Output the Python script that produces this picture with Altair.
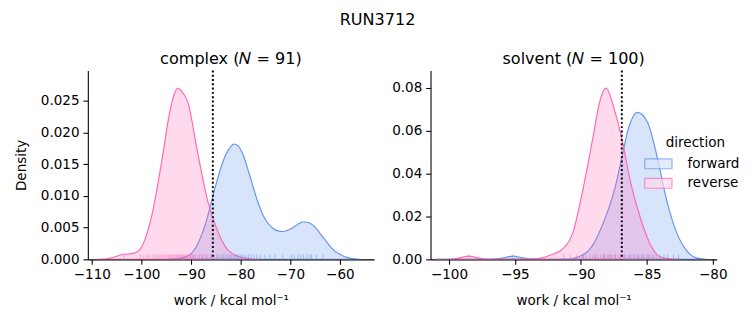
import altair as alt
import pandas as pd

# ---------------- data ----------------
directions = ["forward", "reverse"]
line_colors = ["#6495ED", "#FF69B4"]
legend_fill_colors = ["#d8e4fa", "#ffd9ec"]   # the same hues at 25 % over white

# complex leg: KDE curves
complex_fwd_x = [-95, -92, -90, -89, -88, -87, -86, -85, -84, -83, -82, -81.4, -80.5, -79.5,
                 -78.5, -77.5, -76.5, -75.5, -74.5, -73.5, -72.5, -71.5, -70.5, -69.5, -68.5,
                 -67.5, -67, -66, -65, -64, -63, -62, -61, -60, -59, -58, -57, -56]
complex_fwd_d = [0.0, 0.0002, 0.0009, 0.0019, 0.0036, 0.0058, 0.0087, 0.0117, 0.0144, 0.0165,
                 0.0178, 0.0182, 0.0179, 0.0165, 0.0141, 0.0115, 0.009, 0.007, 0.0057, 0.0049,
                 0.0045, 0.0044, 0.0046, 0.005, 0.0055, 0.0059, 0.0059, 0.0057, 0.0051, 0.0041,
                 0.0031, 0.0021, 0.0013, 0.0008, 0.0004, 0.0002, 0.0001, 0.0]
complex_rev_x = [-109, -107, -105, -103.7, -102, -100.8, -99.8, -97.8, -95.9, -94.3, -93.2,
                 -92.6, -92, -90.6, -88.7, -86.7, -84.8, -82.8, -80.2, -78, -76]
complex_rev_d = [0.0, 0.0001, 0.0005, 0.0008, 0.0009, 0.0012, 0.0022, 0.0073, 0.0155, 0.0232,
                 0.0265, 0.027, 0.0266, 0.0247, 0.017, 0.0094, 0.0048, 0.0017, 0.0004, 0.0001, 0.0]

# solvent leg: KDE curves
solvent_fwd_x = [-101, -97, -96, -95.15, -94.3, -93, -91, -90.6, -89.4, -88.4, -87.4, -86.9,
                 -86.4, -85.7, -84.95, -84.2, -83.5, -82.75, -82, -81.3, -80.5]
solvent_fwd_d = [0.0, 0.0, 0.0006, 0.0015, 0.0006, 0.0, 0.0001, 0.0004, 0.0042, 0.0156, 0.0338,
                 0.0474, 0.061, 0.0686, 0.064, 0.0474, 0.0277, 0.0126, 0.0042, 0.0008, 0.0]
solvent_rev_x = [-101, -99.8, -99.2, -98.5, -97.8, -97.2, -93.5, -92.3, -91.35, -90.6, -89.9,
                 -89.1, -88.6, -88.1, -87.4, -86.9, -86.2, -85.45, -84.7, -84, -83.2, -82.5]
solvent_rev_d = [0.0, 0.0001, 0.0007, 0.0015, 0.0007, 0.0001, 0.0002, 0.002, 0.005, 0.0126, 0.031,
                 0.0565, 0.073, 0.080, 0.0686, 0.0565, 0.035, 0.0186, 0.0065, 0.0012, 0.0002, 0.0]

# rug samples (work values)
complex_rug_fwd = [-89.5, -87.8, -86.9, -86.0, -85.4, -84.8, -84.3, -83.8, -83.4, -83.0, -82.6,
                   -82.2, -81.9, -81.5, -81.2, -80.8, -80.5, -80.1, -79.7, -79.3, -78.9, -78.4,
                   -77.9, -77.3, -76.7, -76.0, -75.1, -74.1, -73.1, -71.5, -69.8, -69.2, -68.4,
                   -67.9, -67.3, -66.6, -66.0, -65.7, -64.7, -63.4]
complex_rug_rev = [-103.5, -100.2, -99.5, -98.8, -98.3, -97.7, -97.2, -96.8, -96.4, -96.0, -95.6,
                   -95.3, -94.9, -94.6, -94.3, -94.0, -93.7, -93.4, -93.2, -92.9, -92.7, -92.4,
                   -92.2, -92.0, -91.7, -91.5, -91.2, -91.0, -90.7, -90.4, -90.1, -89.8, -89.5,
                   -89.1, -88.7, -88.3, -87.8, -87.3, -86.6, -85.9]
solvent_rug_fwd = [-95.2, -89.8, -88.9, -88.3, -87.8, -87.4, -87.0, -86.7, -86.4, -86.2, -86.0,
                   -85.8, -85.6, -85.4, -85.2, -85.0, -84.8, -84.6, -84.3, -84.0, -83.7, -83.4,
                   -83.0, -82.6]
solvent_rug_rev = [-98.5, -91.3, -90.8, -90.3, -89.9, -89.6, -89.3, -89.1, -88.9, -88.7, -88.5,
                   -88.3, -88.2, -88.0, -87.9, -87.7, -87.6, -87.4, -87.2, -87.0, -86.8, -86.6,
                   -86.3, -86.0, -85.7, -85.3, -84.9, -84.5]

# free-energy markers (dotted lines)
complex_dg = [-85.6]
solvent_dg = [-86.9]

complex_xticks = [-110, -100, -90, -80, -70, -60]
solvent_xticks = [-100, -95, -90, -85, -80]
complex_yticks = [0.0, 0.005, 0.010, 0.015, 0.020, 0.025]
solvent_yticks = [0.00, 0.02, 0.04, 0.06, 0.08]

FONT = "DejaVu Sans"
W, H = 294, 194


def curve_df(fx, fd, rx, rd):
    rows = [{"work": x, "density": d, "direction": "forward"} for x, d in zip(fx, fd)]
    rows += [{"work": x, "density": d, "direction": "reverse"} for x, d in zip(rx, rd)]
    return pd.DataFrame(rows)


def rug_df(f, r):
    rows = [{"work": x, "direction": "forward"} for x in f]
    rows += [{"work": x, "direction": "reverse"} for x in r]
    return pd.DataFrame(rows)


strong = alt.Scale(domain=directions, range=line_colors)


def panel(curves, rugs, dg, xdom, ydom, xticks, yticks, yfmt, title, ytitle, legend):
    xenc = alt.X("work:Q", scale=alt.Scale(domain=xdom, nice=False, zero=False),
                 axis=alt.Axis(values=xticks, title="work / kcal mol⁻¹", format="d"))
    yenc = alt.Y("density:Q", stack=None,
                 scale=alt.Scale(domain=ydom, nice=False, zero=True),
                 axis=alt.Axis(values=yticks, format=yfmt, title=ytitle))
    area = alt.Chart(curves).mark_area(
        interpolate="monotone", strokeWidth=1.2, fillOpacity=0.25, clip=True
    ).encode(
        x=xenc, y=yenc,
        fill=alt.Fill("direction:N", scale=strong, legend=None),
        stroke=alt.Stroke("direction:N", scale=strong, legend=None),
    )
    rug = alt.Chart(rugs).mark_rule(strokeWidth=1, opacity=0.55).encode(
        x=alt.X("work:Q"),
        y=alt.value(H - 5), y2=alt.value(H),
        stroke=alt.Stroke("direction:N", scale=strong, legend=None),
    )
    vline = alt.Chart(pd.DataFrame({"work": dg})).mark_rule(
        color="black", strokeWidth=2, strokeDash=[2, 2.4]
    ).encode(x=alt.X("work:Q"))
    layers = [area, rug, vline]
    if legend is not None:
        # hidden (clipped away) helper layer that only carries the legend symbols;
        # it goes first so that its legend settings win when legends are merged
        key = alt.Chart(rugs).mark_square(clip=True, filled=True).encode(
            x=alt.X("work:Q"), y=alt.value(-60),
            color=alt.Color("direction:N",
                            scale=alt.Scale(domain=directions, range=legend_fill_colors),
                            legend=legend),
            stroke=alt.Stroke("direction:N", scale=strong, legend=legend),
        )
        layers.insert(0, key)
    return alt.layer(*layers).properties(
        width=W, height=H,
        title=alt.TitleParams(title, fontSize=16.5, font=FONT, fontWeight="normal",
                              anchor="middle", offset=2, color="black"),
    )


legend = alt.Legend(
    title="direction", orient="none", legendX=226, legendY=68,
    titleAnchor="middle", symbolType="M-2,-0.72H2V0.72H-2Z", symbolSize=196,
    symbolStrokeWidth=1.2, labelFontSize=13.9, titleFontSize=13.9, labelFont=FONT,
    titleFont=FONT, titleFontWeight="normal", labelOffset=22, rowPadding=4,
    titlePadding=6, labelColor="black", titleColor="black",
)

left = panel(curve_df(complex_fwd_x, complex_fwd_d, complex_rev_x, complex_rev_d),
             rug_df(complex_rug_fwd, complex_rug_rev), complex_dg,
             [-110.8, -53.1], [0, 0.0298], complex_xticks, complex_yticks, ".3f",
             "complex (𝑁 = 91)", "Density", None)
right = panel(curve_df(solvent_fwd_x, solvent_fwd_d, solvent_rev_x, solvent_rev_d),
              rug_df(solvent_rug_fwd, solvent_rug_rev), solvent_dg,
              [-101.4, -79.7], [0, 0.0882], solvent_xticks, solvent_yticks, ".2f",
              "solvent (𝑁 = 100)", None, legend)

chart = alt.hconcat(left, right, spacing=18).resolve_scale(
    fill="independent", stroke="independent", color="independent",
    x="independent", y="independent"
).properties(
    title=alt.TitleParams("RUN3712", fontSize=16.5, font=FONT, fontWeight="normal",
                          anchor="middle", offset=24, color="black"),
    padding={"left": 7, "top": 0, "right": 5, "bottom": 5},
).configure_view(stroke=None).configure_axis(
    grid=False, domainColor="black", domainWidth=1.1, tickColor="black", tickWidth=1.1,
    tickSize=5, labelFont=FONT, labelFontSize=13.9, labelColor="black", labelPadding=4,
    titleFont=FONT, titleFontSize=13.9, titleFontWeight="normal", titleColor="black",
    titlePadding=12, zindex=1,
)

chart.save("out.html", embed_options={"renderer": "svg", "actions": False})
